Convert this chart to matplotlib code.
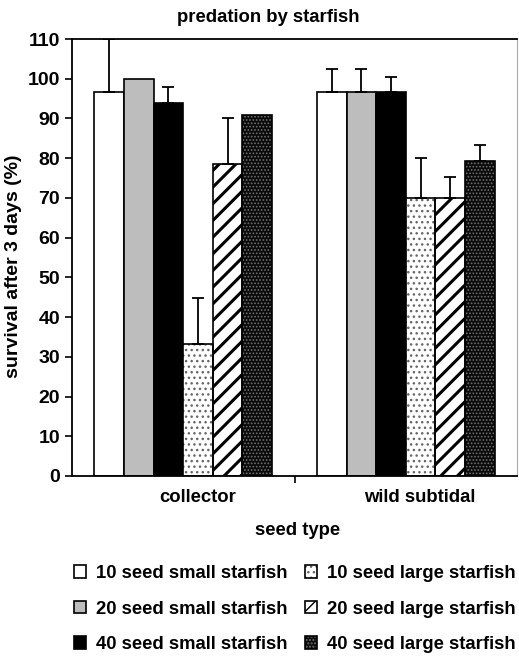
import matplotlib
matplotlib.use("Agg")
import matplotlib.pyplot as plt
import numpy as np
from matplotlib.patches import Patch
from matplotlib.legend_handler import HandlerTuple
from matplotlib.transforms import ScaledTranslation

plt.rcParams['font.family'] = ['Liberation Sans', 'DejaVu Sans']
plt.rcParams['font.weight'] = 'bold'

categories = ["collector", "wild subtidal"]
series_labels = ["10 seed small starfish", "20 seed small starfish", "40 seed small starfish",
                 "10 seed large starfish", "20 seed large starfish", "40 seed large starfish"]
# survival (%) per series, one value per seed type
survival = [
    [96.7, 96.7],
    [100.0, 96.7],
    [94.0, 96.7],
    [33.3, 70.0],
    [78.5, 70.0],
    [90.9, 79.2],
]
# upper error (SE) per series
errors = [
    [13.3, 5.8],
    [0.0, 5.8],
    [4.0, 3.8],
    [11.6, 10.0],
    [11.5, 5.2],
    [0.0, 4.0],
]
yticks = list(range(0, 111, 10))

# fill styles: (facecolor, hatch, hatch colour)
styles = [
    ("white", None, None),
    ("#bdbdbd", None, None),
    ("black", None, None),
    ("white", "...", "#666666"),
    ("white", "//", "black"),
    ("#0a0a0a", ".....", "#707070"),
]
hatch_lw = [1.0, 1.0, 1.0, 1.0, 2.2, 0.8]

FS = 13.3
fig = plt.figure(figsize=(5.19, 6.59), dpi=100)
ax = fig.add_axes([72/519, 1-476/659, (517-72)/519, (476-39)/659])

x = np.arange(len(categories))
n = len(series_labels)
width = 0.133
offsets = (np.arange(n) - (n-1)/2) * width

handles = []
for i in range(n):
    fc, hatch, hc = styles[i]
    xs = x + offsets[i]
    with plt.rc_context({'hatch.linewidth': hatch_lw[i]}):
        if hatch:
            ax.bar(xs, survival[i], width, color=fc, edgecolor=hc, hatch=hatch,
                   linewidth=0, zorder=2)
            ax.bar(xs, survival[i], width, fill=False, edgecolor='black',
                   linewidth=1.2, zorder=3)
            h = (Patch(facecolor=fc, edgecolor=hc, hatch=hatch, linewidth=0),
                 Patch(fill=False, edgecolor='black', linewidth=1.2))
        else:
            ax.bar(xs, survival[i], width, color=fc, edgecolor='black',
                   linewidth=1.2, zorder=2)
            h = (Patch(facecolor=fc, edgecolor='black', linewidth=1.2),)
    handles.append(h)
    err = np.array(errors[i])
    mask = err > 0
    ax.errorbar(xs[mask], np.array(survival[i])[mask],
                yerr=[np.zeros(mask.sum()), err[mask]], fmt='none',
                ecolor='black', elinewidth=1.3, capsize=4.5, capthick=1.3, zorder=4)

ax.set_xlim(-0.5, 1.5)
ax.set_ylim(0, 110)
ax.set_yticks(yticks)
ax.set_yticklabels([str(t) for t in yticks], fontsize=14, fontweight='bold')
ax.set_xticks([0.5])
ax.set_xticklabels([""])
ax.set_xticks(x, minor=True)
ax.set_xticklabels(categories, minor=True, fontsize=FS, fontweight='bold')
ax.tick_params(axis='x', which='minor', length=0, pad=9)
ax.tick_params(axis='x', which='major', length=5, width=1.2)
ax.tick_params(axis='y', length=5, width=1.2, pad=3.5)
shift = ScaledTranslation(14/100, 0, fig.dpi_scale_trans)
for lab in ax.get_xticklabels(minor=True):
    lab.set_transform(lab.get_transform() + shift)

for side in ['left', 'bottom', 'top']:
    ax.spines[side].set_linewidth(1.3)
ax.spines['right'].set_color('#aaaaaa')
ax.spines['right'].set_linewidth(0.8)

fig.text(298/519, 1-535/659, "seed type", fontsize=FS, fontweight='bold',
         ha='center', va='baseline')
fig.text(14/519, 1-266/659, "survival after 3 days (%)", fontsize=FS + 0.7,
         fontweight='bold', ha='center', va='center', rotation=90)
fig.text(268/519, 1-22/659, "predation by starfish", fontsize=FS,
         fontweight='bold', ha='center', va='baseline')

fig.legend(handles, series_labels, ncol=2, loc='center',
           bbox_to_anchor=(295/519, 1-609/659), frameon=False,
           prop={'weight': 'bold', 'size': FS},
           handlelength=0.65, handleheight=0.65, handletextpad=0.55,
           columnspacing=0.95, labelspacing=1.0, borderpad=0,
           handler_map={tuple: HandlerTuple(ndivide=1, pad=0)})

fig.savefig("out.png", dpi=100)
